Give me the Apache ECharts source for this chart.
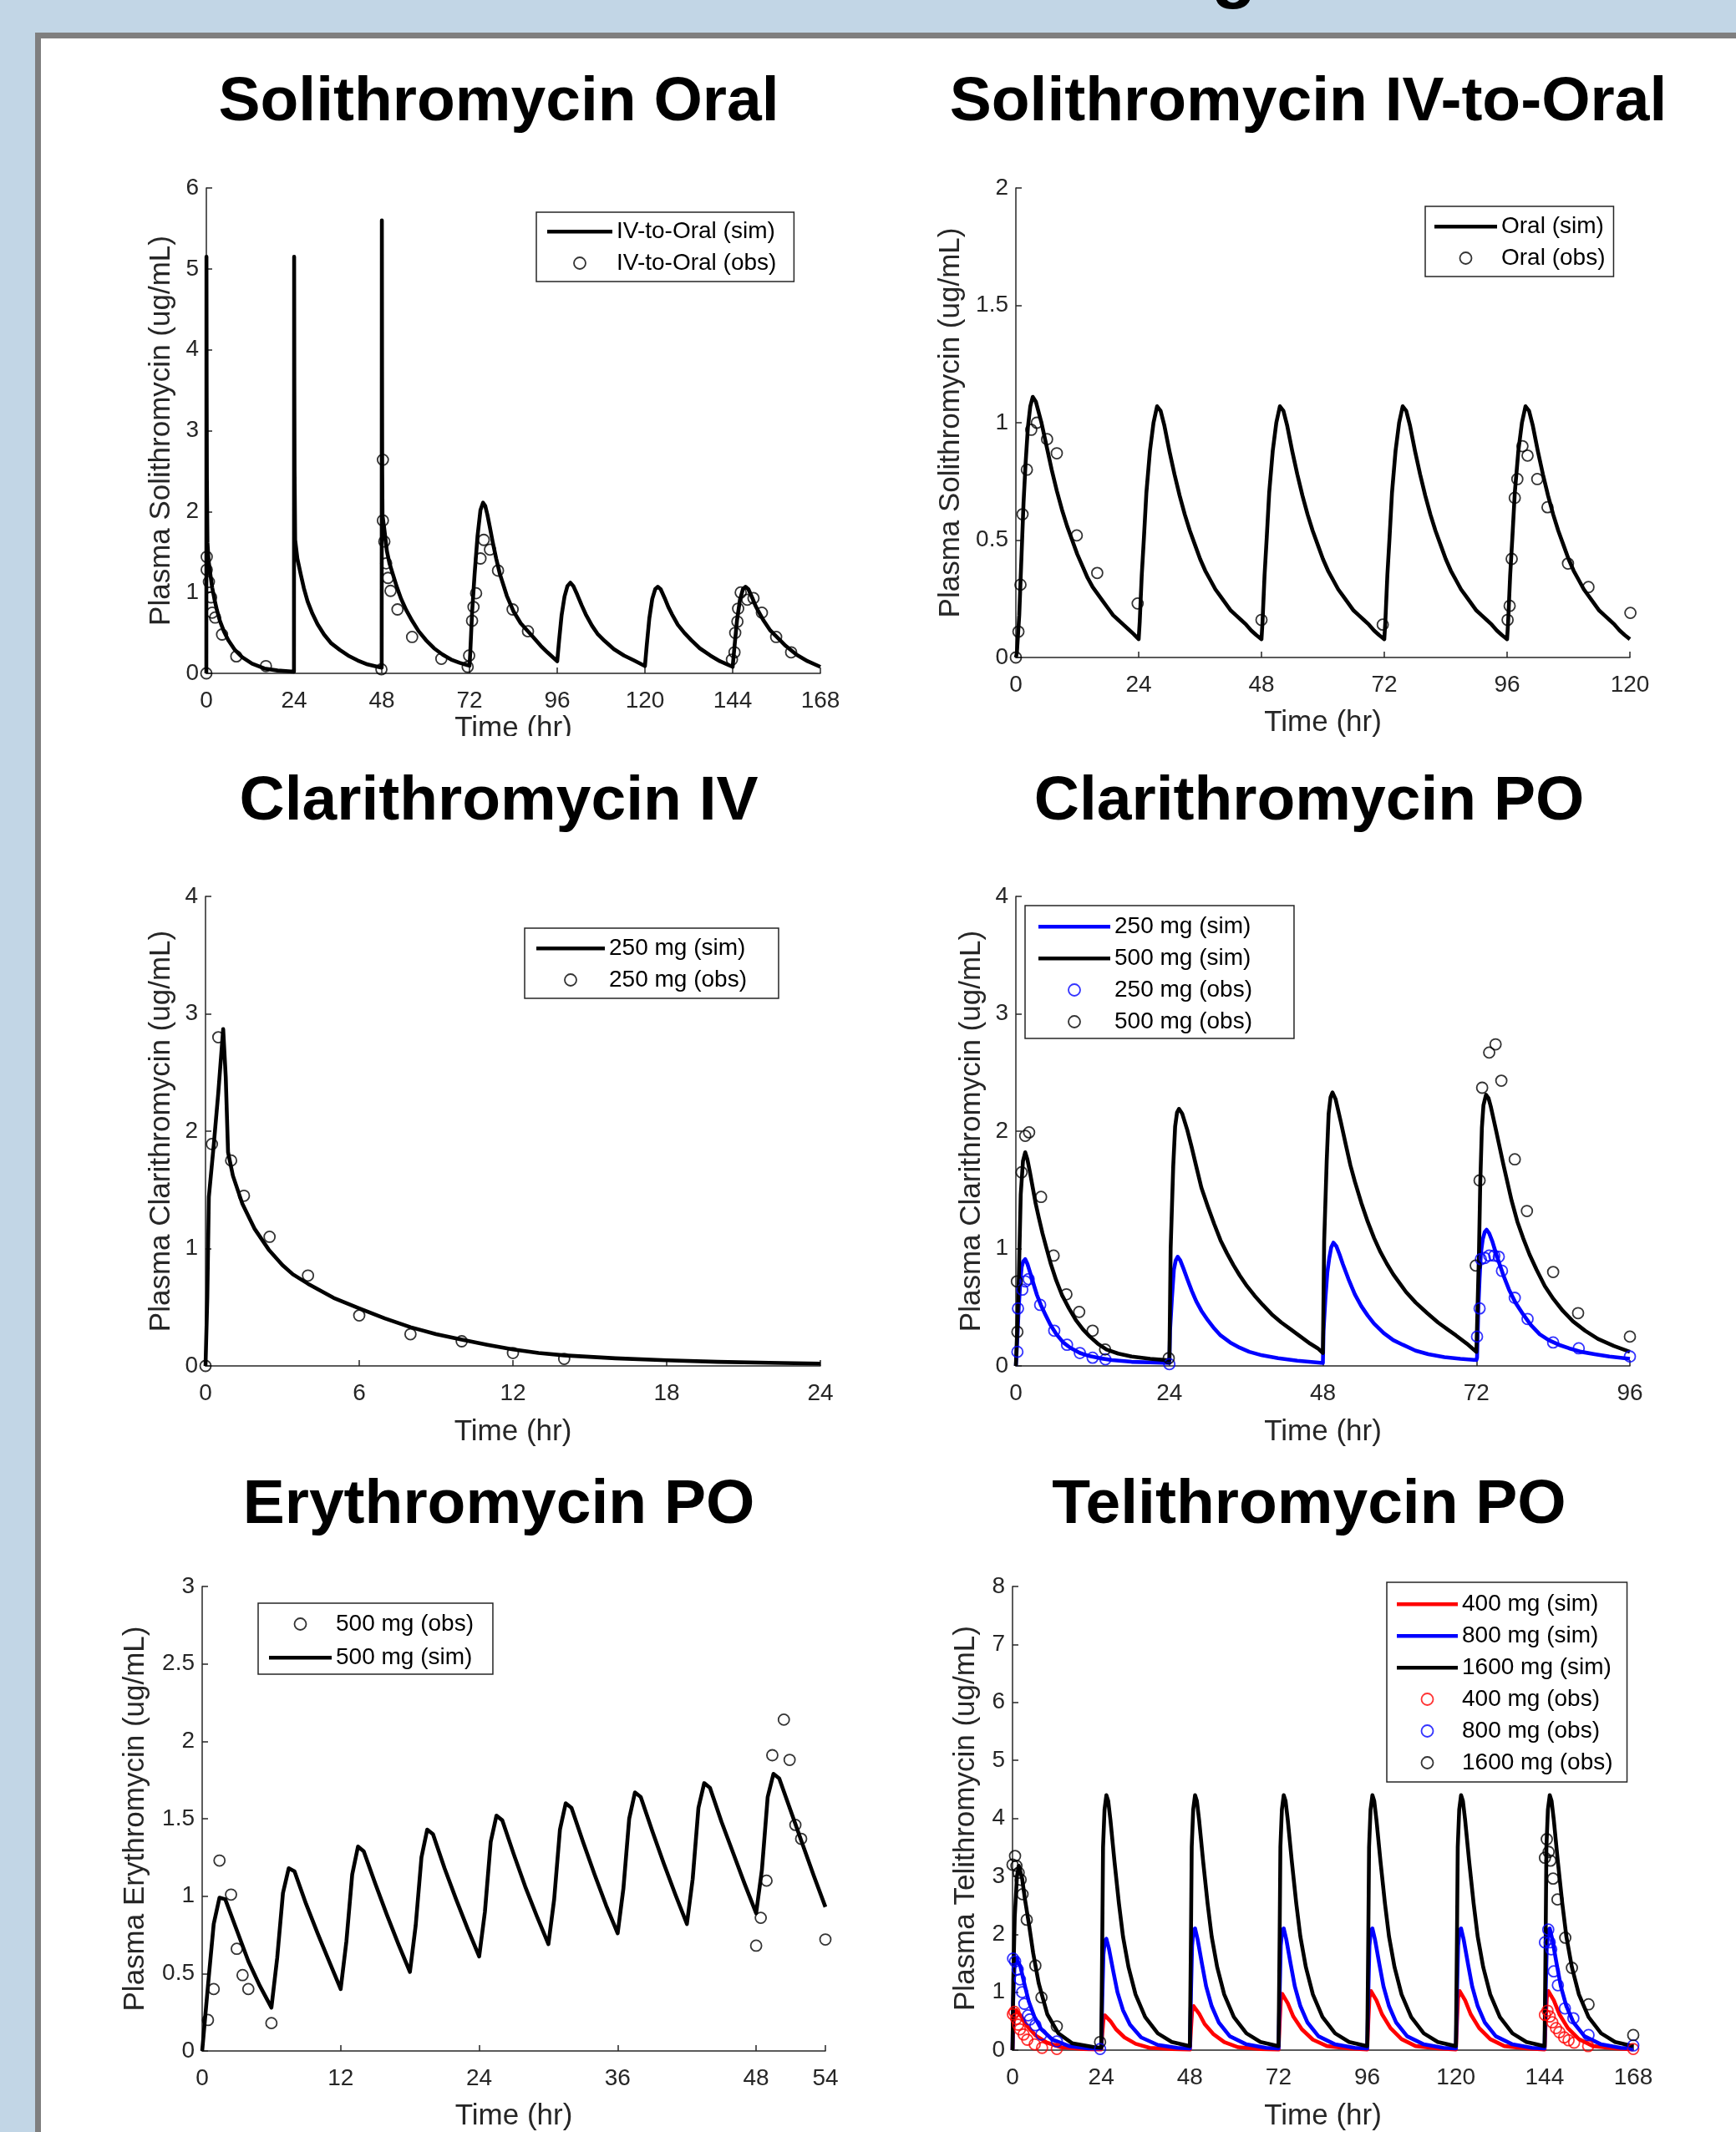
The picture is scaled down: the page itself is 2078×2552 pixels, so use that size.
<!DOCTYPE html>
<html>
<head>
<meta charset="utf-8">
<script src="https://cdn.jsdelivr.net/npm/echarts@6/dist/echarts.min.js"></script>
<style>
  html, body { margin: 0; padding: 0; background: #c2d6e6; }
  #main { width: 2078px; height: 2552px; }
</style>
</head>
<body>
<div id="main"></div>
<script>
// ---------- data: [time (hr), conc (ug/mL)] ----------

// Solithromycin Oral panel (legend reads IV-to-Oral)
const s1Sim = [
  [0,0],[0.03,5.15],[0.08,3.6],[0.15,2.4],[0.3,1.62],[0.6,1.4],[1.07,1.23],[1.6,1.06],[2.2,0.92],[2.9,0.78],[3.7,0.65],[4.8,0.52],[6,0.41],[7.8,0.29],[9.8,0.2],[12.5,0.12],[15.9,0.06],[19.5,0.035],[23.97,0.02],
  [24.02,5.15],[24.07,3.6],[24.14,2.5],[24.3,1.65],[24.9,1.42],[25.8,1.23],[26.7,1.05],[27.7,0.89],[29,0.74],[30.4,0.61],[32.2,0.48],[34.2,0.37],[36.5,0.29],[38.8,0.22],[41.4,0.16],[44.1,0.11],[47.97,0.07],
  [48.02,5.6],[48.07,3.8],[48.12,2.5],[48.2,1.95],[48.7,1.78],[49.4,1.51],[50.1,1.36],[51,1.23],[52.1,1.07],[53.3,0.92],[54.7,0.78],[56.3,0.65],[58.1,0.52],[60.1,0.41],[62.3,0.31],[64.7,0.23],[67,0.17],[69.3,0.13],[71.5,0.1],[72,0.095],
  [72.2,0.25],[72.7,0.75],[73.4,1.23],[74.2,1.7],[75,2.02],[75.7,2.11],[76.3,2.07],[76.9,1.96],[77.6,1.8],[78.4,1.61],[79.3,1.42],[80.3,1.23],[82.2,0.96],[84,0.77],[86,0.62],[89.4,0.45],[91.5,0.34],[93.3,0.26],[96,0.15],
  [96.5,0.4],[97.2,0.72],[98,0.95],[98.8,1.08],[99.6,1.12],[100.4,1.08],[101.5,0.97],[102.7,0.84],[103.8,0.73],[105.5,0.59],[107,0.49],[109,0.4],[111.5,0.3],[114.3,0.22],[117,0.16],[120,0.09],
  [120.5,0.35],[121.2,0.68],[122,0.92],[122.8,1.04],[123.5,1.07],[124.3,1.04],[125.4,0.93],[126.4,0.82],[127.4,0.73],[129,0.6],[130.8,0.5],[132.7,0.41],[135,0.31],[137.9,0.22],[140.5,0.15],[144,0.08],
  [144.5,0.33],[145.2,0.66],[146,0.91],[146.8,1.04],[147.5,1.07],[148.3,1.04],[149.4,0.93],[150.2,0.84],[151,0.77],[152.5,0.65],[154.3,0.53],[156.3,0.44],[158.5,0.34],[161.5,0.23],[164.5,0.15],[168,0.08]
];
const s1Obs = [
  [0,0],[0.1,1.44],[0.1,1.28],[0.7,1.13],[1.3,0.94],[1.6,0.75],[2.4,0.69],[4.3,0.48],[8.2,0.21],[16.3,0.09],
  [47.9,0.05],[48.3,2.64],[48.3,1.89],[48.7,1.63],[49.2,1.36],[49.7,1.18],[50.4,1.02],[52.3,0.79],[56.3,0.45],[64.3,0.18],
  [71.5,0.08],[71.9,0.22],[72.7,0.65],[73.1,0.82],[73.8,0.99],[75,1.42],[75.9,1.65],[77.6,1.53],[79.8,1.27],[83.8,0.79],[88,0.52],
  [143.8,0.17],[144.5,0.26],[144.7,0.5],[145.3,0.64],[145.5,0.8],[146.2,1],[148,0.91],[149.7,0.93],[152,0.75],[155.9,0.45],[160,0.26]
];

// Solithromycin IV-to-Oral panel (legend reads Oral)
const s2Sim = [
  [0,0],[0.2,0.02],[0.66,0.18],[0.94,0.34],[1.22,0.5],[1.5,0.66],[1.88,0.82],[2.35,0.98],[2.82,1.07],[3.3,1.11],[3.9,1.09],[5,1],[6,0.9],[7,0.8],[8,0.71],[9,0.63],[10,0.56],[11,0.5],[12,0.44],[13,0.39],[14,0.34],[15,0.3],[16,0.27],[17,0.24],[18,0.21],[19,0.18],[20,0.16],[21,0.14],[22,0.12],[23,0.1],[24,0.078],
  [24.2,0.15],[24.6,0.35],[25,0.5],[25.5,0.7],[26.2,0.88],[26.9,1],[27.6,1.07],[28.3,1.05],[29,0.99],[30,0.88],[31,0.78],[32,0.69],[33,0.61],[34,0.54],[35,0.48],[36,0.42],[37,0.37],[38,0.33],[39,0.29],[40,0.26],[41,0.23],[42,0.2],[43,0.18],[44,0.16],[45,0.14],[46,0.115],[47,0.095],[48,0.078],
  [48.2,0.15],[48.6,0.35],[49,0.5],[49.5,0.7],[50.2,0.88],[50.9,1],[51.6,1.07],[52.3,1.05],[53,0.99],[54,0.88],[55,0.78],[56,0.69],[57,0.61],[58,0.54],[59,0.48],[60,0.42],[61,0.37],[62,0.33],[63,0.29],[64,0.26],[65,0.23],[66,0.2],[67,0.18],[68,0.16],[69,0.14],[70,0.115],[71,0.095],[72,0.078],
  [72.2,0.15],[72.6,0.35],[73,0.5],[73.5,0.7],[74.2,0.88],[74.9,1],[75.6,1.07],[76.3,1.05],[77,0.99],[78,0.88],[79,0.78],[80,0.69],[81,0.61],[82,0.54],[83,0.48],[84,0.42],[85,0.37],[86,0.33],[87,0.29],[88,0.26],[89,0.23],[90,0.2],[91,0.18],[92,0.16],[93,0.14],[94,0.115],[95,0.095],[96,0.078],
  [96.2,0.15],[96.6,0.35],[97,0.5],[97.5,0.7],[98.2,0.88],[98.9,1],[99.6,1.07],[100.3,1.05],[101,0.99],[102,0.88],[103,0.78],[104,0.69],[105,0.61],[106,0.54],[107,0.48],[108,0.42],[109,0.37],[110,0.33],[111,0.29],[112,0.26],[113,0.23],[114,0.2],[115,0.18],[116,0.16],[117,0.14],[118,0.115],[119,0.095],[120,0.078]
];
const s2Obs = [
  [0,0],[0.5,0.11],[0.9,0.31],[1.3,0.61],[2.15,0.8],[3,0.97],[4.1,1],[6.1,0.93],[8,0.87],[11.9,0.52],[15.9,0.36],[23.8,0.23],
  [48,0.16],[71.7,0.14],
  [96.1,0.16],[96.5,0.22],[96.9,0.42],[97.5,0.68],[98,0.76],[99,0.9],[100,0.86],[101.9,0.76],[103.9,0.64],[107.9,0.4],[111.9,0.3],[120.1,0.19]
];

// Clarithromycin IV, 250 mg
const s3Sim = [
  [0,0],[0.07,0.58],[0.13,1.44],[0.32,1.88],[0.5,2.33],[0.69,2.87],[0.79,2.46],[0.88,1.82],[1.07,1.62],[1.44,1.38],[1.91,1.17],[2.47,0.99],[3,0.86],[3.41,0.78],[4,0.7],[5,0.58],[6,0.49],[7,0.405],[8,0.33],[9,0.27],[10,0.225],[11,0.18],[12,0.14],[13,0.11],[14,0.09],[16,0.065],[18,0.048],[20,0.035],[22,0.027],[24,0.02]
];
const s3Obs = [
  [0,0],[0.25,1.89],[0.5,2.8],[1,1.75],[1.5,1.45],[2.5,1.1],[4,0.77],[6,0.43],[8,0.27],[10,0.21],[12,0.11],[14,0.06]
];

// Clarithromycin PO
const s4Sim250 = [
  [0,0],[0.2,0.2],[0.46,0.51],[0.7,0.72],[0.9,0.84],[1.15,0.89],[1.46,0.91],[1.8,0.87],[2.2,0.8],[2.7,0.71],[3.29,0.605],[3.9,0.52],[4.59,0.44],[5.4,0.35],[6.33,0.27],[7.4,0.2],[8.5,0.155],[10,0.11],[11.56,0.083],[13.2,0.065],[15,0.05],[18.1,0.035],[21,0.03],[24,0.025],
  [24.1,0.3],[24.4,0.58],[24.7,0.82],[25,0.9],[25.3,0.93],[25.7,0.9],[26.2,0.83],[26.8,0.74],[27.5,0.64],[28.2,0.55],[29,0.47],[30,0.39],[31,0.32],[32,0.26],[33.5,0.2],[35,0.155],[36.5,0.12],[38.5,0.09],[41,0.066],[44,0.045],[48,0.025],
  [48.1,0.3],[48.4,0.58],[48.7,0.8],[49,0.92],[49.3,1.01],[49.65,1.05],[50.1,1.02],[50.6,0.95],[51.1,0.87],[52,0.74],[53,0.61],[54,0.51],[55,0.43],[56,0.36],[57.5,0.28],[59,0.22],[60.5,0.18],[62.5,0.13],[64.5,0.1],[67,0.075],[69.5,0.06],[72,0.05],
  [72.1,0.07],[72.3,0.49],[72.5,0.75],[72.7,0.96],[73,1.08],[73.3,1.14],[73.6,1.16],[74,1.13],[74.5,1.06],[75,0.97],[75.6,0.87],[76.3,0.76],[77.1,0.65],[78.1,0.54],[79.3,0.44],[80.5,0.35],[81.9,0.27],[83.3,0.22],[84.9,0.18],[86.5,0.15],[88.4,0.12],[90.5,0.1],[92.8,0.08],[96,0.06]
];
const s4Sim500 = [
  [0,0],[0.2,0.3],[0.46,0.75],[0.76,1.46],[1.11,1.745],[1.46,1.82],[1.8,1.76],[2.2,1.65],[2.6,1.53],[3.07,1.39],[3.6,1.26],[4.16,1.13],[4.8,1],[5.46,0.87],[6.3,0.73],[7.2,0.605],[8.3,0.49],[9.38,0.39],[10.5,0.31],[11.56,0.25],[12.8,0.19],[14.17,0.14],[16,0.105],[18.1,0.08],[21,0.06],[24,0.047],
  [24.2,1],[24.6,1.7],[24.9,2.04],[25.2,2.16],[25.5,2.19],[26,2.15],[26.8,2.01],[27.5,1.86],[28.2,1.7],[29,1.52],[30,1.36],[31,1.21],[32,1.07],[33,0.96],[34,0.86],[35,0.77],[36,0.69],[37.3,0.6],[38.6,0.52],[40,0.44],[41.5,0.37],[43,0.31],[44.5,0.25],[46,0.19],[47.2,0.15],[48,0.11],
  [48.2,1.06],[48.6,1.75],[48.9,2.15],[49.2,2.29],[49.5,2.33],[50,2.27],[50.8,2.08],[51.6,1.88],[52.3,1.71],[53,1.57],[54,1.39],[55,1.23],[56,1.09],[57,0.97],[58,0.87],[59,0.78],[59.8,0.72],[61,0.63],[62.5,0.54],[64.3,0.45],[66,0.37],[67.5,0.31],[68.8,0.26],[70.5,0.19],[72,0.12],
  [72.4,0.96],[72.6,1.55],[72.86,2.03],[73.1,2.22],[73.5,2.31],[73.9,2.28],[74.25,2.21],[75.1,2],[76.2,1.72],[77.5,1.41],[78.4,1.23],[79.3,1.09],[80.3,0.95],[81.4,0.82],[82.7,0.68],[84.05,0.57],[85.5,0.47],[87.1,0.38],[89,0.3],[91,0.23],[93.5,0.17],[96,0.12]
];
const s4Obs250 = [
  [0.24,0.12],[0.33,0.49],[1,0.65],[1.5,0.72],[2,0.74],[3.8,0.52],[6,0.3],[8,0.18],[10,0.11],[12,0.07],[14,0.056],[24,0.015],
  [72.1,0.25],[72.5,0.49],[72.7,0.91],[73.3,0.92],[74,0.94],[74.8,0.94],[75.5,0.93],[76,0.81],[78,0.58],[80,0.4],[84,0.2],[88,0.15],[96,0.08]
];
const s4Obs500 = [
  [0.24,0.29],[0.16,0.72],[0.9,1.65],[1.46,1.96],[2.07,1.99],[3.94,1.44],[5.9,0.94],[7.9,0.61],[9.9,0.46],[12,0.3],[13.95,0.14],[23.9,0.066],
  [71.9,0.855],[72.5,1.58],[72.9,2.37],[74,2.67],[75,2.74],[75.9,2.43],[78,1.76],[79.9,1.32],[84,0.8],[87.9,0.45],[96,0.25]
];

// Erythromycin PO, 500 mg
const s5Sim = [
  [0,0],[0.5,0.42],[1,0.82],[1.5,0.99],[2,0.98],[3,0.78],[4,0.58],[5,0.42],[6,0.28],
  [6.5,0.6],[7,1.02],[7.5,1.18],[8,1.16],[9,0.95],[10,0.76],[11,0.58],[12,0.4],
  [12.5,0.71],[13,1.14],[13.5,1.32],[14,1.29],[15,1.08],[16,0.88],[17,0.69],[18,0.51],
  [18.5,0.81],[19,1.25],[19.5,1.43],[20,1.4],[21,1.18],[22,0.98],[23,0.79],[24,0.61],
  [24.5,0.9],[25,1.35],[25.5,1.52],[26,1.49],[27,1.27],[28,1.06],[29,0.87],[30,0.69],
  [30.5,0.98],[31,1.43],[31.5,1.6],[32,1.57],[33,1.35],[34,1.14],[35,0.94],[36,0.76],
  [36.5,1.05],[37,1.5],[37.5,1.67],[38,1.64],[39,1.42],[40,1.21],[41,1.01],[42,0.82],
  [42.5,1.11],[43,1.57],[43.5,1.73],[44,1.7],[45,1.48],[46,1.28],[47,1.08],[48,0.89],
  [48.5,1.17],[49,1.64],[49.5,1.79],[50,1.76],[51,1.55],[52,1.34],[53,1.13],[54,0.93]
];
const s5Obs = [
  [0.5,0.2],[1,0.4],[1.5,1.23],[2.5,1.01],[3,0.66],[3.5,0.49],[4,0.4],[6,0.18],
  [48,0.68],[48.4,0.86],[48.9,1.1],[49.4,1.91],[50.4,2.14],[50.9,1.88],[51.4,1.46],[51.9,1.37],[54,0.72]
];

// Telithromycin PO
const s6Sim400 = [
  [0,0],[0.15,0.35],[0.5,0.62],[1,0.69],[1.4,0.7],[2.5,0.57],[4,0.41],[6.3,0.25],[9.3,0.13],[13.1,0.05],[19.1,0.02],[24,0.01],
  [24.1,0.01],[24.3,0.29],[24.6,0.52],[25,0.6],[25.4,0.61],[26.5,0.5],[28,0.36],[30.3,0.22],[33.3,0.11],[37.1,0.04],[43.1,0.02],[48,0.01],
  [48.1,0.01],[48.3,0.37],[48.6,0.66],[49,0.76],[49.4,0.77],[50.5,0.63],[52,0.45],[54.3,0.28],[57.3,0.14],[61.1,0.05],[67.1,0.02],[72,0.01],
  [72.1,0.01],[72.3,0.47],[72.6,0.85],[73,0.97],[73.4,0.99],[74.5,0.81],[76,0.58],[78.3,0.36],[81.3,0.18],[85.1,0.07],[91.1,0.03],[96,0.01],
  [96.1,0.01],[96.3,0.5],[96.6,0.9],[97,1.02],[97.4,1.04],[98.5,0.86],[100,0.62],[102.3,0.38],[105.3,0.19],[109.1,0.07],[115.1,0.03],[120,0.01],
  [120.1,0.01],[120.3,0.5],[120.6,0.9],[121,1.02],[121.4,1.04],[122.5,0.86],[124,0.62],[126.3,0.38],[129.3,0.19],[133.1,0.07],[139.1,0.03],[144,0.01],
  [144.1,0.01],[144.3,0.5],[144.6,0.9],[145,1.02],[145.4,1.04],[146.5,0.86],[148,0.62],[150.3,0.38],[153.3,0.19],[157.1,0.07],[163.1,0.03],[168,0.01]
];
const s6Sim800 = [
  [0,0],[0.15,0.8],[0.5,1.4],[1,1.58],[1.4,1.6],[2.1,1.45],[3.3,1.12],[4.4,0.84],[5.9,0.58],[7.8,0.36],[10.8,0.18],[15.3,0.07],[20.6,0.03],[24,0.03],
  [24.1,0.03],[24.3,0.9],[24.6,1.65],[25,1.89],[25.4,1.92],[26.1,1.75],[27.3,1.35],[28.4,1],[29.9,0.69],[31.8,0.44],[34.8,0.22],[39.3,0.09],[44.6,0.04],[48,0.03],
  [48.1,0.03],[48.3,1],[48.6,1.8],[49,2.07],[49.4,2.1],[50.1,1.91],[51.3,1.48],[52.4,1.1],[53.9,0.76],[55.8,0.48],[58.8,0.24],[63.3,0.1],[68.6,0.04],[72,0.03],
  [72.1,0.03],[72.3,1],[72.6,1.8],[73,2.07],[73.4,2.1],[74.1,1.91],[75.3,1.48],[76.4,1.1],[77.9,0.76],[79.8,0.48],[82.8,0.24],[87.3,0.1],[92.6,0.04],[96,0.03],
  [96.1,0.03],[96.3,1],[96.6,1.8],[97,2.07],[97.4,2.1],[98.1,1.91],[99.3,1.48],[100.4,1.1],[101.9,0.76],[103.8,0.48],[106.8,0.24],[111.3,0.1],[116.6,0.04],[120,0.03],
  [120.1,0.03],[120.3,1],[120.6,1.8],[121,2.07],[121.4,2.1],[122.1,1.91],[123.3,1.48],[124.4,1.1],[125.9,0.76],[127.8,0.48],[130.8,0.24],[135.3,0.1],[140.6,0.04],[144,0.03],
  [144.1,0.03],[144.3,1],[144.6,1.8],[145,2.07],[145.4,2.1],[146.1,1.91],[147.3,1.48],[148.4,1.1],[149.9,0.76],[151.8,0.48],[154.8,0.24],[159.3,0.1],[164.6,0.04],[168,0.03]
];
const s6Sim1600 = [
  [0,0],[0.2,1.2],[0.6,2.3],[1.2,3],[1.7,3.18],[2.6,2.96],[3.3,2.63],[4.5,2.15],[5.6,1.67],[7.1,1.15],[9.4,0.62],[12.4,0.29],[16.1,0.12],[22.2,0.05],[24,0.04],
  [24.1,0.04],[24.3,2],[24.5,3.5],[24.9,4.15],[25.4,4.4],[25.9,4.3],[26.5,3.97],[27.6,3.25],[28.8,2.53],[29.9,1.96],[31.4,1.43],[33.3,0.96],[35.9,0.57],[39.3,0.29],[43.1,0.14],[48,0.07],
  [48.1,0.07],[48.3,2],[48.5,3.5],[48.9,4.15],[49.4,4.4],[49.9,4.3],[50.5,3.97],[51.6,3.25],[52.8,2.53],[53.9,1.96],[55.4,1.43],[57.3,0.96],[59.9,0.57],[63.3,0.29],[67.1,0.14],[72,0.07],
  [72.1,0.07],[72.3,2],[72.5,3.5],[72.9,4.15],[73.4,4.4],[73.9,4.3],[74.5,3.97],[75.6,3.25],[76.8,2.53],[77.9,1.96],[79.4,1.43],[81.3,0.96],[83.9,0.57],[87.3,0.29],[91.1,0.14],[96,0.07],
  [96.1,0.07],[96.3,2],[96.5,3.5],[96.9,4.15],[97.4,4.4],[97.9,4.3],[98.5,3.97],[99.6,3.25],[100.8,2.53],[101.9,1.96],[103.4,1.43],[105.3,0.96],[107.9,0.57],[111.3,0.29],[115.1,0.14],[120,0.07],
  [120.1,0.07],[120.3,2],[120.5,3.5],[120.9,4.15],[121.4,4.4],[121.9,4.3],[122.5,3.97],[123.6,3.25],[124.8,2.53],[125.9,1.96],[127.4,1.43],[129.3,0.96],[131.9,0.57],[135.3,0.29],[139.1,0.14],[144,0.07],
  [144.1,0.07],[144.3,2],[144.5,3.5],[144.9,4.15],[145.4,4.4],[145.9,4.3],[146.5,3.97],[147.6,3.25],[148.8,2.53],[149.9,1.96],[151.4,1.43],[153.3,0.96],[155.9,0.57],[159.3,0.29],[163.1,0.14],[168,0.07]
];
const s6Obs400 = [
  [0.1,0.62],[0.5,0.66],[1,0.54],[1.5,0.44],[2,0.36],[3,0.27],[4,0.18],[6,0.1],[8,0.04],[12,0.02],
  [144.1,0.61],[144.8,0.68],[145.4,0.58],[146.1,0.48],[147.1,0.38],[148,0.31],[149.3,0.22],[150.5,0.17],[152,0.13],[155.8,0.07],[168,0.02]
];
const s6Obs800 = [
  [0.15,1.58],[0.7,1.53],[1.4,1.39],[2,1.22],[2.6,1],[3.2,0.8],[4.2,0.6],[4.7,0.53],[6.2,0.43],[7.8,0.27],[12,0.15],[23.7,0.02],
  [144.1,1.86],[145,2.08],[145.4,1.86],[145.8,1.74],[146.5,1.36],[147.6,1.12],[149.5,0.72],[151.8,0.55],[155.9,0.26],[168,0.08]
];
const s6Obs1600 = [
  [0,3.2],[0.68,3.35],[1.06,3.18],[1.66,3.06],[2.19,2.94],[2.71,2.69],[3.85,2.25],[6.18,1.46],[7.84,0.91],[11.98,0.41],[23.7,0.14],
  [144.1,3.32],[144.6,3.64],[145.1,3.42],[145.6,3.27],[146.3,2.96],[147.5,2.6],[149.6,1.94],[151.4,1.42],[155.9,0.79],[168,0.26]
];

// ---------- styling / layout ----------
const FONT = '"Liberation Sans", Arial, Helvetica, sans-serif';
const AX = '#262626';
const LW = 4.6;

const grids = [
  { left: 247, top: 225, width: 735, height: 581 },
  { left: 1216, top: 225, width: 735, height: 562 },
  { left: 246, top: 1073, width: 736, height: 562 },
  { left: 1216, top: 1073, width: 735, height: 562 },
  { left: 242, top: 1899, width: 746, height: 559 },
  { left: 1212, top: 1899, width: 743, height: 558 }
];

function axisCommon() {
  return {
    type: 'value', min: 0,
    nameLocation: 'middle',
    nameTextStyle: { fontSize: 35, color: AX, fontFamily: FONT },
    axisLine: { show: true, onZero: false, lineStyle: { color: AX, width: 1.5 } },
    axisTick: { show: true, inside: true, length: 7, lineStyle: { color: AX, width: 1.5 } },
    splitLine: { show: false }
  };
}
function xAx(gi, max, step, gap) {
  return Object.assign(axisCommon(), {
    gridIndex: gi, max: max, interval: step, name: 'Time (hr)', nameGap: gap,
    axisLabel: { fontSize: 28, color: AX, fontFamily: FONT, margin: 19 }
  });
}
function yAx(gi, max, step, gap, label) {
  return Object.assign(axisCommon(), {
    gridIndex: gi, max: max, interval: step, name: label, nameGap: gap,
    axisLabel: { fontSize: 28, color: AX, fontFamily: FONT, margin: 9 }
  });
}

function sim(name, gi, data, color) {
  return {
    name: name, type: 'line', xAxisIndex: gi, yAxisIndex: gi, data: data,
    symbol: 'none', showSymbol: false, silent: true, z: 3,
    lineStyle: { color: color, width: LW, join: 'round' }, itemStyle: { color: color }
  };
}
function obs(name, gi, data, color) {
  return {
    name: name, type: 'scatter', xAxisIndex: gi, yAxisIndex: gi, data: data,
    symbol: 'circle', symbolSize: 13, silent: true, clip: false, z: 4,
    itemStyle: { color: 'transparent', borderColor: color, borderWidth: 1.8 }
  };
}

// legend box in the MATLAB style: line sample or open circle, then the label
function legendBox(left, top, pad, iw, gap, entries) {
  return {
    orient: 'vertical', left: left, top: top, padding: pad,
    itemWidth: iw, itemHeight: 14, itemGap: gap,
    borderColor: AX, borderWidth: 1.5, backgroundColor: '#fff',
    selectedMode: false,
    textStyle: { fontSize: 28, color: '#000', fontFamily: FONT, lineHeight: 30 },
    formatter: function (n) { return n.split('|')[1]; },
    data: entries.map(function (e) {
      if (e[1] === 'sim') {
        return { name: e[0], icon: 'path://M0,0M' + iw + ',14M0,5L' + iw + ',5L' + iw + ',9.5L0,9.5Z',
                 itemStyle: { color: e[2], borderWidth: 0 } };
      }
      return { name: e[0], icon: 'circle',
               itemStyle: { color: 'transparent', borderColor: e[2], borderWidth: 1.8 } };
    })
  };
}

const titles = [
  ['Solithromycin Oral', 597, 123],
  ['Solithromycin IV-to-Oral', 1566, 123],
  ['Clarithromycin IV', 597, 960],
  ['Clarithromycin PO', 1567, 960],
  ['Erythromycin PO', 597, 1802],
  ['Telithromycin PO', 1567, 1802]
];

const chart = echarts.init(document.getElementById('main'), null, { renderer: 'canvas' });

const option = {
  animation: false,
  backgroundColor: '#c2d6e6',
  grid: grids,
  xAxis: [xAx(0, 168, 24, 49), xAx(1, 120, 24, 61), xAx(2, 24, 6, 62), xAx(3, 96, 24, 62), xAx(4, 54, 12, 61), xAx(5, 168, 24, 62)],
  yAxis: [
    yAx(0, 6, 1, 36, 'Plasma Solithromycin (ug/mL)'),
    yAx(1, 2, 0.5, 60, 'Plasma Solithromycin (ug/mL)'),
    yAx(2, 4, 1, 35, 'Plasma Clarithromycin (ug/mL)'),
    yAx(3, 4, 1, 35, 'Plasma Clarithromycin (ug/mL)'),
    yAx(4, 3, 0.5, 62, 'Plasma Erythromycin (ug/mL)'),
    yAx(5, 8, 1, 38, 'Plasma Telithromycin (ug/mL)')
  ],
  legend: [
    legendBox(642, 254, [8, 21, 7, 13], 78, 8, [['a|IV-to-Oral (sim)', 'sim', '#000'], ['a|IV-to-Oral (obs)', 'obs', '#000']]),
    legendBox(1706, 247, [9, 10, 7, 11], 75, 8, [['b|Oral (sim)', 'sim', '#000'], ['b|Oral (obs)', 'obs', '#000']]),
    legendBox(628, 1111, [9, 38, 7, 14], 82, 8, [['c|250 mg (sim)', 'sim', '#000'], ['c|250 mg (obs)', 'obs', '#000']]),
    legendBox(1227, 1084, [10, 50, 5, 16], 86, 8, [['d|250 mg (sim)', 'sim', '#0000ff'], ['d|500 mg (sim)', 'sim', '#000'], ['d|250 mg (obs)', 'obs', '#0000ff'], ['d|500 mg (obs)', 'obs', '#000']]),
    legendBox(309, 1919, [10, 23, 5, 13], 75, 10, [['e|500 mg (obs)', 'obs', '#000'], ['e|500 mg (sim)', 'sim', '#000']]),
    legendBox(1660, 1894, [11, 17, 8, 12], 73, 8, [['f|400 mg (sim)', 'sim', '#ff0000'], ['f|800 mg (sim)', 'sim', '#0000ff'], ['f|1600 mg (sim)', 'sim', '#000'], ['f|400 mg (obs)', 'obs', '#ff0000'], ['f|800 mg (obs)', 'obs', '#0000ff'], ['f|1600 mg (obs)', 'obs', '#000']])
  ],
  series: [
    sim('a|IV-to-Oral (sim)', 0, s1Sim, '#000'),
    obs('a|IV-to-Oral (obs)', 0, s1Obs, '#000'),
    sim('b|Oral (sim)', 1, s2Sim, '#000'),
    obs('b|Oral (obs)', 1, s2Obs, '#000'),
    sim('c|250 mg (sim)', 2, s3Sim, '#000'),
    obs('c|250 mg (obs)', 2, s3Obs, '#000'),
    sim('d|250 mg (sim)', 3, s4Sim250, '#0000ff'),
    sim('d|500 mg (sim)', 3, s4Sim500, '#000'),
    obs('d|250 mg (obs)', 3, s4Obs250, '#0000ff'),
    obs('d|500 mg (obs)', 3, s4Obs500, '#000'),
    obs('e|500 mg (obs)', 4, s5Obs, '#000'),
    sim('e|500 mg (sim)', 4, s5Sim, '#000'),
    sim('f|400 mg (sim)', 5, s6Sim400, '#ff0000'),
    sim('f|800 mg (sim)', 5, s6Sim800, '#0000ff'),
    sim('f|1600 mg (sim)', 5, s6Sim1600, '#000'),
    obs('f|400 mg (obs)', 5, s6Obs400, '#ff0000'),
    obs('f|800 mg (obs)', 5, s6Obs800, '#0000ff'),
    obs('f|1600 mg (obs)', 5, s6Obs1600, '#000')
  ],
  graphic: [
    // slide frame: grey edge and white panel
    { type: 'rect', z: -20, silent: true, shape: { x: 42, y: 39, width: 2100, height: 2600 }, style: { fill: '#7f7f7f' } },
    { type: 'rect', z: -19, silent: true, shape: { x: 49, y: 46, width: 2100, height: 2600 }, style: { fill: '#ffffff' } },
    // tail of the slide heading that is cut off at the top
    { type: 'text', z: -18, silent: true, x: 1477, y: -31,
      style: { text: 'g', fontSize: 88, fontWeight: 'bold', fontFamily: FONT, fill: '#000', align: 'center', verticalAlign: 'middle' } },
    // the first panel's x label is clipped at its lower edge
    { type: 'rect', z: 100, silent: true, shape: { x: 500, y: 881, width: 240, height: 24 }, style: { fill: '#ffffff' } }
  ].concat(titles.map(function (t) {
    return { type: 'text', silent: true, x: t[1], y: t[2],
      style: { text: t[0], fontSize: 75, fontWeight: 'bold', fontFamily: FONT, fill: '#000', align: 'center', verticalAlign: 'middle' } };
  }))
};

chart.setOption(option);
</script>
</body>
</html>
